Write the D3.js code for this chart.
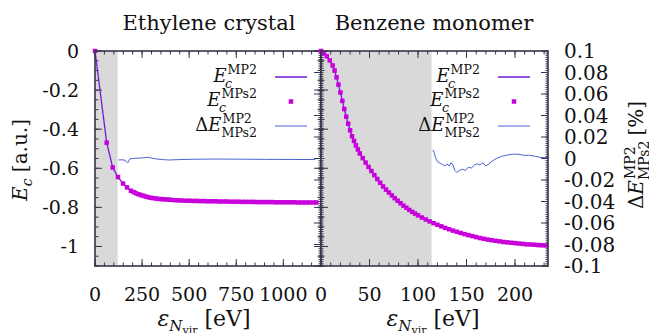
<!DOCTYPE html>
<html>
<head>
<meta charset="utf-8">
<script src="https://cdn.jsdelivr.net/npm/d3@7"></script>
<style>
  html, body { margin: 0; padding: 0; background: #fff; }
</style>
</head>
<body>
<svg id="chart" width="649" height="333"></svg>
<script>
// ── Datos ──
const panelTitles = ["Ethylene crystal", "Benzene monomer"];

// Ethylene crystal: E_c (a.u.) vs cutoff (eV)
const ethEnergy = [0, 62, 94, 122, 149, 170, 191, 205, 218, 231, 244, 257, 270, 283, 296,
  310, 325, 340, 355, 370, 385, 400, 420, 440, 460, 480, 500, 520, 540, 560, 580, 600, 620,
  640, 660, 680, 700, 720, 740, 760, 780, 800, 820, 840, 860, 880, 900, 920, 940, 960, 980,
  1000, 1020, 1040, 1060, 1080, 1100, 1120, 1140, 1160, 1175];
const ethEc = [0, -0.469, -0.596, -0.645, -0.678, -0.698, -0.715, -0.722, -0.728, -0.733,
  -0.737, -0.741, -0.745, -0.748, -0.751, -0.753, -0.755, -0.757, -0.758, -0.759, -0.760,
  -0.761, -0.763, -0.764, -0.765, -0.766, -0.766, -0.767, -0.767, -0.768, -0.768, -0.769,
  -0.769, -0.769, -0.770, -0.770, -0.770, -0.771, -0.771, -0.771, -0.772, -0.772, -0.772,
  -0.772, -0.773, -0.773, -0.773, -0.773, -0.773, -0.774, -0.774, -0.774, -0.774, -0.774,
  -0.774, -0.775, -0.775, -0.775, -0.775, -0.775, -0.775];
// Ethylene crystal: ΔE (%)
const ethDeltaEnergy = [124, 140, 155, 165, 174, 180, 186, 200, 213, 240, 265, 284, 302, 330,
  360, 390, 450, 520, 629, 750, 900, 1050, 1170];
const ethDelta = [-0.0014, -0.0012, -0.0014, -0.0025, -0.0040, -0.0020, -0.0003, 0.0001,
  0.0002, 0.0004, 0.0008, 0.0011, 0.0003, -0.0005, -0.0010, -0.0014, -0.0010, -0.0007,
  -0.0005, -0.0006, -0.0008, -0.0009, -0.0010];

// Benzene monomer: E_c (a.u.) vs cutoff (eV)
const benEnergy = [0, 3, 6, 9, 12, 14, 16, 18, 20, 22, 24, 26, 28, 30, 32, 34, 36, 38, 40,
  43, 46, 49, 52, 55, 58, 61, 64, 67, 70, 73, 76, 79, 82, 85, 88, 91, 94, 97, 100, 104, 108,
  112, 116, 120, 124, 128, 132, 136, 140, 144, 148, 152, 156, 160, 164, 168, 172, 176, 180,
  184, 188, 192, 196, 200, 204, 208, 212, 216, 220, 224, 228, 232];
const benEc = [0, -0.012, -0.027, -0.048, -0.074, -0.100, -0.135, -0.172, -0.212, -0.255,
  -0.297, -0.336, -0.372, -0.406, -0.436, -0.460, -0.483, -0.504, -0.524, -0.548, -0.571,
  -0.593, -0.614, -0.635, -0.655, -0.674, -0.693, -0.709, -0.724, -0.739, -0.753, -0.766,
  -0.779, -0.791, -0.802, -0.813, -0.823, -0.832, -0.841, -0.852, -0.862, -0.872, -0.881,
  -0.889, -0.897, -0.905, -0.912, -0.919, -0.925, -0.931, -0.937, -0.942, -0.947, -0.952,
  -0.957, -0.961, -0.965, -0.968, -0.971, -0.974, -0.977, -0.979, -0.981, -0.983, -0.985,
  -0.987, -0.989, -0.990, -0.991, -0.993, -0.994, -0.995];
// Benzene monomer: ΔE (%)
const benDeltaEnergy = [115, 116.5, 118, 120, 122, 124, 126, 128, 130, 132, 134, 136, 138,
  140, 143, 146, 149, 152, 155, 158, 161, 164, 167, 170, 173, 177, 181, 186, 191, 197, 203,
  209, 215, 221, 227, 234];
const benDelta = [0.008, 0.006, 0.001, -0.003, -0.004, -0.005, -0.006, -0.007, -0.005,
  -0.007, -0.004, -0.006, -0.011, -0.013, -0.011, -0.010, -0.011, -0.008, -0.009, -0.006,
  -0.005, -0.006, -0.004, -0.007, -0.005, -0.002, 0.000, 0.002, 0.003, 0.004, 0.004, 0.003,
  0.003, 0.002, 0.001, 0.001];

// zona sombreada (eV)
const shadeLimits = [120, 114];

// ticks
const ethTicks = [0, 250, 500, 750, 1000];
const benTicks = [0, 50, 100, 150, 200];
const ecTicks = [0, -0.2, -0.4, -0.6, -0.8, -1];
const deltaTicks = [0.1, 0.08, 0.06, 0.04, 0.02, 0, -0.02, -0.04, -0.06, -0.08, -0.1];

// ── Estilo ──
const FONT = "'DejaVu Serif', serif";
const INK = "#111";
const FRAME = "#35354a";
const C_MP2 = "#7219d6";
const C_MPS2 = "#c800dc";
const C_DELTA = "#4a63d3";
const SHADE = "#d9d9d9";

const svg = d3.select("#chart");
const yTop = 51, yBot = 266;

const yE = d3.scaleLinear().domain([-1.1, 0]).range([yBot, yTop]);
const yD = d3.scaleLinear().domain([-0.1, 0.1]).range([yBot, yTop]);

const panels = [
  { title: panelTitles[0], x: d3.scaleLinear().domain([0, 1200]).range([95, 321]),
    E: ethEnergy, Ec: ethEc, dE: ethDeltaEnergy, d: ethDelta, shade: shadeLimits[0],
    ticks: ethTicks, minorStep: 50, legendX: 257 },
  { title: panelTitles[1], x: d3.scaleLinear().domain([0, 234]).range([321, 548]),
    E: benEnergy, Ec: benEc, dE: benDeltaEnergy, d: benDelta, shade: shadeLimits[1],
    ticks: benTicks, minorStep: 10, legendX: 480 },
];

// E^{sup}_{sub} con super y subíndice apilados; devuelve grupo y ancho
function mathLabel(parent, baseParts, sup, sub, subItalic, size) {
  const g = parent.append("g").attr("font-family", FONT).attr("fill", INK);
  const bt = g.append("text").attr("font-size", size);
  baseParts.forEach(p => bt.append("tspan").attr("font-style", p.it ? "italic" : null).text(p.t));
  const w0 = bt.node().getComputedTextLength();
  const ss = size * 0.7;
  const st = g.append("text").attr("x", w0 + 1).attr("y", -size * 0.42)
    .attr("font-size", ss).text(sup);
  const sb = g.append("text").attr("x", w0 - (subItalic ? 1.5 : 0)).attr("y", size * 0.32)
    .attr("font-size", ss).attr("font-style", subItalic ? "italic" : null).text(sub);
  const w = w0 + Math.max(st.node().getComputedTextLength() + 1, sb.node().getComputedTextLength());
  return { g, w };
}

function vTicks(g, scale, vals, x, len) {
  g.append("g").selectAll("line").data(vals).join("line")
    .attr("x1", x).attr("x2", x + len)
    .attr("y1", d => scale(d)).attr("y2", d => scale(d))
    .attr("stroke", FRAME).attr("stroke-width", 1);
}
function hTicks(g, scale, vals, y, len) {
  g.append("g").selectAll("line").data(vals).join("line")
    .attr("y1", y).attr("y2", y + len)
    .attr("x1", d => scale(d)).attr("x2", d => scale(d))
    .attr("stroke", FRAME).attr("stroke-width", 1);
}

const ecMinor = d3.range(0, -1.1001, -0.05).map(v => +v.toFixed(3));
const dMinor = d3.range(-0.1, 0.1001, 0.002).map(v => +v.toFixed(4));

panels.forEach((p, i) => {
  const g = svg.append("g");
  const x0 = p.x.range()[0], x1 = p.x.range()[1];

  // sombreado
  g.append("rect")
    .attr("x", p.x(0)).attr("y", yTop)
    .attr("width", p.x(p.shade) - p.x(0)).attr("height", yBot - yTop)
    .attr("fill", SHADE);

  // ticks eje x (arriba y abajo)
  const xMinor = d3.range(0, p.x.domain()[1], p.minorStep);
  hTicks(g, p.x, xMinor, yTop, 3.5);
  hTicks(g, p.x, xMinor, yBot, -3.5);
  hTicks(g, p.x, p.ticks, yTop, 7);
  hTicks(g, p.x, p.ticks, yBot, -7);

  // ticks eje y
  if (i === 0) {
    vTicks(g, yE, ecMinor, x0, 3.5);
    vTicks(g, yE, ecTicks, x0, 7);
    vTicks(g, yE, ecMinor, x1, -3.5);
    vTicks(g, yE, ecTicks, x1, -7);
    vTicks(g, yD, dMinor, x1, -2.5);
    vTicks(g, yD, deltaTicks, x1, -7);
  } else {
    vTicks(g, yE, ecMinor, x0, 3.5);
    vTicks(g, yE, ecTicks, x0, 7);
    vTicks(g, yD, dMinor, x0, 2.5);
    vTicks(g, yD, dMinor, x1, -2.5);
    vTicks(g, yD, deltaTicks, x1, -7);
  }

  // E_c^MP2 (línea)
  const ecPts = d3.zip(p.E, p.Ec);
  g.append("path")
    .datum(ecPts)
    .attr("fill", "none").attr("stroke", C_MP2).attr("stroke-width", 1.3)
    .attr("d", d3.line().x(d => p.x(d[0])).y(d => yE(d[1])));

  // ΔE (línea fina, eje derecho)
  g.append("path")
    .datum(d3.zip(p.dE, p.d))
    .attr("fill", "none").attr("stroke", C_DELTA).attr("stroke-width", 1)
    .attr("d", d3.line().x(d => p.x(d[0])).y(d => yD(d[1])));

  // E_c^MPs2 (cuadrados)
  const sq = 4.5;
  g.append("g").selectAll("rect").data(ecPts).join("rect")
    .attr("x", d => p.x(d[0]) - sq / 2).attr("y", d => yE(d[1]) - sq / 2)
    .attr("width", sq).attr("height", sq)
    .attr("fill", C_MPS2);

  // marco
  g.append("rect")
    .attr("x", x0).attr("y", yTop).attr("width", x1 - x0).attr("height", yBot - yTop)
    .attr("fill", "none").attr("stroke", FRAME).attr("stroke-width", 1.6);

  // título
  g.append("text")
    .attr("x", i === 0 ? 209 : 434).attr("y", 30)
    .attr("text-anchor", "middle").attr("font-family", FONT).attr("font-size", 21)
    .attr("fill", INK).text(p.title);

  // etiquetas eje x
  g.append("g").selectAll("text").data(p.ticks).join("text")
    .attr("x", d => p.x(d)).attr("y", 301)
    .attr("text-anchor", "middle").attr("font-family", FONT).attr("font-size", 19)
    .attr("fill", INK).text(d => d);

  // título eje x
  const xl = g.append("text")
    .attr("x", i === 0 ? 204 : 433).attr("y", 326)
    .attr("text-anchor", "middle").attr("font-family", FONT).attr("font-size", 22)
    .attr("fill", INK);
  xl.append("tspan").attr("font-style", "italic").text("ε");
  xl.append("tspan").attr("font-style", "italic").attr("font-size", 15).attr("dy", 5).text("N");
  xl.append("tspan").attr("font-size", 11).attr("dy", 3).text("vir");
  xl.append("tspan").attr("dy", -8).text(" [eV]");

  // leyenda
  const lx = p.legendX;
  const rows = [
    { base: [{ t: "E", it: true }], sup: "MP2", sub: "c", subIt: true, y: 82, ly: 77, kind: "line", color: C_MP2, w: 1.5 },
    { base: [{ t: "E", it: true }], sup: "MPs2", sub: "c", subIt: true, y: 106, ly: 101.5, kind: "sq" },
    { base: [{ t: "Δ" }, { t: "E", it: true }], sup: "MP2", sub: "MPs2", subIt: false, y: 131, ly: 126, kind: "line", color: C_DELTA, w: 1 },
  ];
  rows.forEach(r => {
    const m = mathLabel(g, r.base, r.sup, r.sub, r.subIt, 18);
    m.g.attr("transform", `translate(${lx - m.w},${r.y})`);
    if (r.kind === "line") {
      g.append("line")
        .attr("x1", lx + 18).attr("x2", lx + 50).attr("y1", r.ly).attr("y2", r.ly)
        .attr("stroke", r.color).attr("stroke-width", r.w);
    } else {
      g.append("rect")
        .attr("x", lx + 34 - sq / 2).attr("y", r.ly - sq / 2)
        .attr("width", sq).attr("height", sq).attr("fill", C_MPS2);
    }
  });
});

// etiquetas eje y izquierdo
svg.append("g").selectAll("text").data(ecTicks).join("text")
  .attr("x", 79).attr("y", d => yE(d)).attr("dy", "0.36em")
  .attr("text-anchor", "end").attr("font-family", FONT).attr("font-size", 19)
  .attr("fill", INK).text(d => String(d));

// etiquetas eje y derecho
svg.append("g").selectAll("text").data(deltaTicks).join("text")
  .attr("x", 564).attr("y", d => yD(d)).attr("dy", "0.36em")
  .attr("text-anchor", "start").attr("font-family", FONT).attr("font-size", 20)
  .attr("fill", INK).text(d => String(+d.toFixed(2)));

// título eje y izquierdo
const yl = svg.append("text")
  .attr("transform", "translate(27,160) rotate(-90)")
  .attr("text-anchor", "middle").attr("font-family", FONT).attr("font-size", 20)
  .attr("fill", INK);
yl.append("tspan").attr("font-style", "italic").text("E");
yl.append("tspan").attr("font-style", "italic").attr("font-size", 14).attr("dy", 5).text("c");
yl.append("tspan").attr("dy", -5).text(" [a.u.]");

// título eje y derecho
const yr = svg.append("g").attr("transform", "translate(643,155) rotate(-90)");
const yrm = mathLabel(yr, [{ t: "Δ" }, { t: "E", it: true }], "MP2", "MPs2", false, 20);
const pct = yrm.g.append("text").attr("x", yrm.w + 5).attr("font-size", 20).text("[%]");
const yrTotal = yrm.w + 5 + pct.node().getComputedTextLength();
yrm.g.attr("transform", `translate(${-yrTotal / 2},0)`);
</script>
</body>
</html>
